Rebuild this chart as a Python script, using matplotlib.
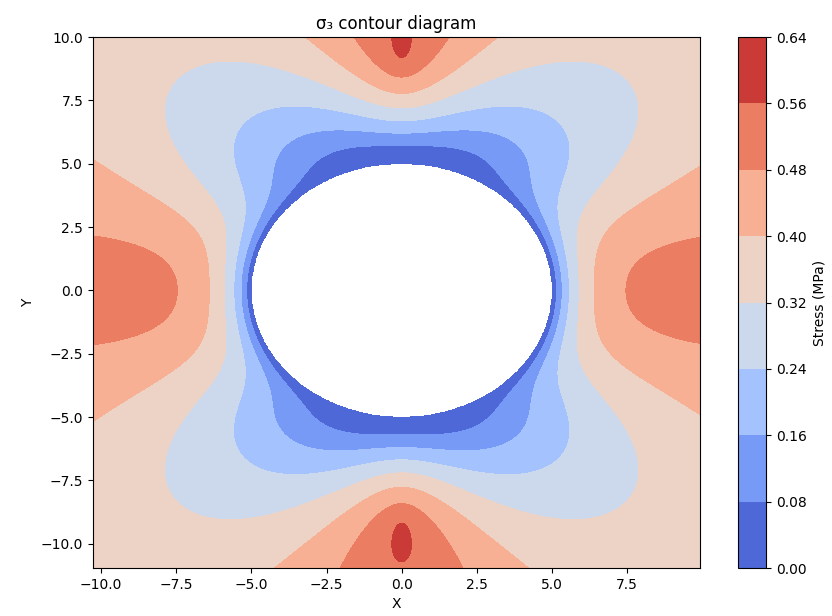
import numpy as np
import matplotlib.pyplot as plt

# far-field stresses (MPa), horizontal / vertical, and hole radius
sigma_h = 0.44
sigma_v = 1.08
hole_radius = 5.0

# plotted region and contour levels
x_range = [-10.27, 9.93]
y_range = [-10.96, 10.0]
levels = [0.0, 0.08, 0.16, 0.24, 0.32, 0.40, 0.48, 0.56, 0.64]


def kirsch_sigma3(X, Y, sh, sv, a):
    """Minimum principal stress around a circular hole (Kirsch)."""
    r = np.hypot(X, Y)
    th = np.arctan2(Y, X)
    u = (a / r) ** 2
    S = (sh + sv) / 2
    D = (sh - sv) / 2
    c2, s2 = np.cos(2 * th), np.sin(2 * th)
    s_r = S * (1 - u) + D * (1 - 4 * u + 3 * u ** 2) * c2
    s_t = S * (1 + u) - D * (1 + 3 * u ** 2) * c2
    tau = -D * (1 + 2 * u - 3 * u ** 2) * s2
    s3 = (s_r + s_t) / 2 - np.sqrt(((s_r - s_t) / 2) ** 2 + tau ** 2)
    return np.ma.masked_where(r < a, s3)


x = np.linspace(x_range[0], x_range[1], 900)
y = np.linspace(y_range[0], y_range[1], 900)
X, Y = np.meshgrid(x, y)
Z = kirsch_sigma3(X, Y, sigma_h, sigma_v, hole_radius)

fig = plt.figure(figsize=(8.32, 6.16), dpi=100)
ax = fig.add_axes([0.1118, 0.0779, 0.7296, 0.862])
cax = fig.add_axes([0.887, 0.0779, 0.0337, 0.862])

cf = ax.contourf(X, Y, Z, levels=levels, cmap='coolwarm')
ax.set_xlim(x_range)
ax.set_ylim(y_range)
ax.set_title('σ₃ contour diagram')
ax.set_xlabel('X')
ax.set_ylabel('Y')

cb = fig.colorbar(cf, cax=cax)
cb.set_label('Stress (MPa)')

fig.savefig('out.png', dpi=100)
